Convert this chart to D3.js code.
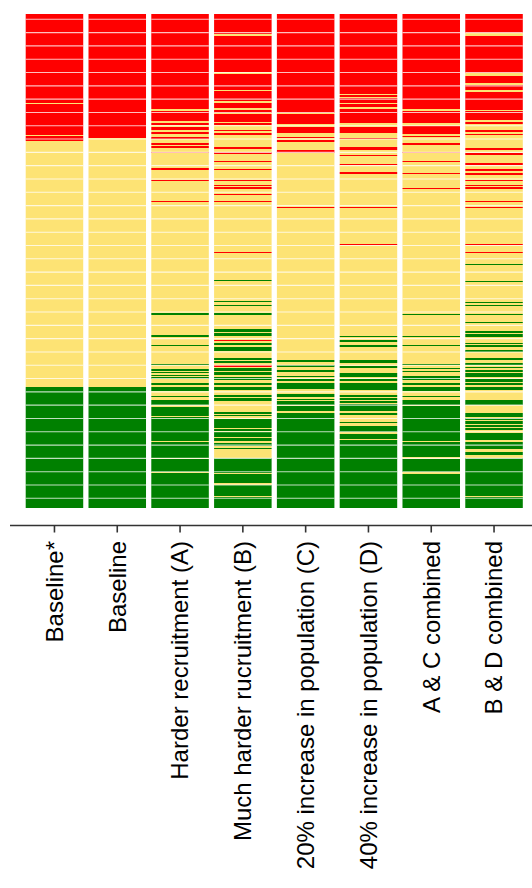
<!DOCTYPE html>
<html>
<head>
<meta charset="utf-8">
<script src="https://cdn.jsdelivr.net/npm/d3@7"></script>
<style>
  html, body { margin: 0; padding: 0; background: #fff; }
  svg { display: block; }
  .label { font-family: "Liberation Sans", Arial, sans-serif; font-size: 24px; fill: #000; }
</style>
</head>
<body>
<svg id="chart" width="532" height="888"></svg>
<script>
// Scenario names, left to right
const categories = [
  "Baseline*", "Baseline", "Harder recruitment (A)", "Much harder rucruitment (B)",
  "20% increase in population (C)", "40% increase in population (D)",
  "A & C combined", "B & D combined"
];

// Outcome of each simulation run, in the same run order for every scenario.
// Each entry is [first run of a block, outcome]; a block lasts until the next entry.
// R = fail, Y = marginal, G = success
const totalRuns = 494;

const baselineStar = [[0,"R"],[89,"Y"],[90,"R"],[121,"Y"],[122,"R"],[127,"Y"],[373,"G"]];

const baseline = [[0,"R"],[124,"Y"],[373,"G"]];

const harderA = [[0,"R"],[95,"Y"],[97,"R"],[107,"Y"],[109,"R"],[111,"Y"],[113,"R"],[116,"Y"],[118,"R"],[120,"Y"],
  [123,"R"],[125,"Y"],[129,"R"],[131,"Y"],[132,"R"],[134,"Y"],[138,"R"],[139,"Y"],[154,"R"],[156,"Y"],
  [166,"R"],[167,"Y"],[187,"R"],[188,"Y"],[299,"G"],[301,"Y"],[321,"G"],[323,"Y"],[331,"G"],[332,"Y"],
  [350,"G"],[351,"Y"],[355,"G"],[357,"Y"],[358,"G"],[359,"Y"],[361,"G"],[362,"Y"],[363,"G"],[365,"Y"],
  [369,"G"],[371,"Y"],[373,"G"],[377,"Y"],[382,"G"],[383,"Y"],[386,"G"],[391,"Y"],[393,"G"],[402,"Y"],
  [403,"G"],[427,"Y"],[428,"G"],[444,"Y"],[445,"G"],[458,"Y"],[459,"G"]];

const muchHarderB = [[0,"R"],[20,"Y"],[22,"R"],[58,"Y"],[60,"R"],[76,"Y"],[77,"R"],[87,"Y"],[89,"R"],[94,"Y"],
  [96,"R"],[99,"Y"],[100,"R"],[108,"Y"],[109,"R"],[111,"Y"],[116,"R"],[117,"Y"],[119,"R"],[121,"Y"],
  [133,"R"],[135,"Y"],[138,"R"],[140,"Y"],[147,"R"],[148,"Y"],[155,"R"],[156,"Y"],[166,"R"],[167,"Y"],
  [171,"R"],[172,"Y"],[173,"R"],[175,"Y"],[180,"R"],[181,"Y"],[187,"R"],[188,"Y"],[238,"R"],[239,"Y"],
  [266,"G"],[267,"Y"],[287,"G"],[288,"Y"],[291,"G"],[292,"Y"],[299,"G"],[301,"Y"],[315,"G"],[318,"Y"],
  [319,"G"],[322,"Y"],[326,"R"],[327,"Y"],[329,"G"],[331,"Y"],[333,"G"],[337,"Y"],[344,"G"],[346,"Y"],
  [347,"G"],[349,"Y"],[351,"R"],[353,"Y"],[354,"G"],[357,"Y"],[358,"G"],[361,"Y"],[363,"G"],[366,"Y"],
  [369,"G"],[371,"Y"],[373,"G"],[376,"Y"],[381,"G"],[383,"Y"],[384,"G"],[387,"Y"],[398,"G"],[400,"Y"],
  [401,"G"],[402,"Y"],[405,"G"],[414,"Y"],[415,"G"],[417,"Y"],[418,"G"],[423,"Y"],[424,"G"],[427,"Y"],
  [429,"G"],[432,"Y"],[434,"G"],[435,"Y"],[444,"G"],[459,"Y"],[460,"G"],[469,"Y"],[471,"G"],[482,"Y"],
  [483,"G"]];

const increaseC = [[0,"R"],[99,"Y"],[100,"R"],[110,"Y"],[113,"R"],[119,"Y"],[123,"R"],[124,"Y"],[126,"R"],[128,"Y"],
  [136,"R"],[139,"Y"],[193,"R"],[194,"Y"],[346,"G"],[348,"Y"],[351,"G"],[353,"Y"],[356,"G"],[358,"Y"],
  [362,"G"],[363,"Y"],[365,"G"],[367,"Y"],[369,"G"],[375,"Y"],[380,"G"],[383,"Y"],[385,"G"],[386,"Y"],
  [387,"G"],[391,"Y"],[392,"G"],[397,"Y"],[399,"G"]];

const increaseD = [[0,"R"],[80,"Y"],[81,"R"],[83,"Y"],[84,"R"],[89,"Y"],[90,"R"],[93,"Y"],[95,"R"],[109,"Y"],
  [113,"R"],[119,"Y"],[124,"R"],[125,"Y"],[133,"R"],[136,"Y"],[141,"R"],[142,"Y"],[150,"R"],[151,"Y"],
  [158,"R"],[160,"Y"],[193,"R"],[194,"Y"],[230,"R"],[231,"Y"],[322,"G"],[323,"Y"],[326,"G"],[328,"Y"],
  [331,"G"],[333,"Y"],[346,"G"],[349,"Y"],[352,"G"],[354,"Y"],[359,"G"],[363,"Y"],[365,"G"],[367,"Y"],
  [369,"G"],[376,"Y"],[381,"G"],[383,"Y"],[384,"G"],[386,"Y"],[387,"G"],[389,"Y"],[390,"G"],[397,"Y"],
  [399,"G"],[401,"Y"],[408,"G"],[409,"Y"],[412,"G"],[418,"Y"],[420,"G"],[425,"Y"],[426,"G"]];

const combinedAC = [[0,"R"],[95,"Y"],[97,"R"],[109,"Y"],[112,"R"],[120,"Y"],[122,"R"],[123,"Y"],[129,"R"],[131,"Y"],
  [138,"R"],[139,"Y"],[147,"R"],[148,"Y"],[159,"R"],[160,"Y"],[174,"R"],[175,"Y"],[300,"G"],[301,"Y"],
  [322,"G"],[323,"Y"],[331,"G"],[332,"Y"],[350,"G"],[351,"Y"],[354,"G"],[355,"Y"],[357,"G"],[358,"Y"],
  [362,"G"],[366,"Y"],[369,"G"],[371,"Y"],[373,"G"],[377,"Y"],[382,"G"],[383,"Y"],[386,"G"],[391,"Y"],
  [392,"G"],[427,"Y"],[428,"G"],[443,"Y"],[445,"G"],[458,"Y"],[460,"G"]];

const combinedBD = [[0,"R"],[19,"Y"],[22,"R"],[59,"Y"],[62,"R"],[69,"Y"],[71,"R"],[76,"Y"],[78,"R"],[96,"Y"],
  [97,"R"],[106,"Y"],[108,"R"],[110,"Y"],[116,"R"],[118,"Y"],[120,"R"],[121,"Y"],[134,"R"],[136,"Y"],
  [139,"R"],[141,"Y"],[149,"R"],[151,"Y"],[155,"R"],[157,"Y"],[159,"R"],[161,"Y"],[166,"R"],[167,"Y"],
  [171,"R"],[172,"Y"],[173,"R"],[175,"Y"],[187,"R"],[188,"Y"],[193,"R"],[194,"Y"],[230,"R"],[231,"Y"],
  [238,"R"],[239,"Y"],[250,"G"],[251,"Y"],[267,"G"],[268,"Y"],[288,"G"],[289,"Y"],[291,"G"],[292,"Y"],
  [300,"G"],[301,"Y"],[308,"G"],[309,"Y"],[317,"G"],[319,"Y"],[320,"G"],[323,"Y"],[329,"G"],[330,"Y"],
  [331,"G"],[333,"Y"],[336,"G"],[338,"Y"],[344,"G"],[346,"Y"],[349,"G"],[351,"Y"],[353,"G"],[354,"Y"],
  [356,"G"],[358,"Y"],[359,"G"],[363,"Y"],[365,"G"],[368,"Y"],[369,"G"],[371,"Y"],[373,"G"],[376,"Y"],
  [386,"G"],[391,"Y"],[399,"G"],[403,"Y"],[404,"G"],[406,"Y"],[407,"G"],[410,"Y"],[411,"G"],[413,"Y"],
  [414,"G"],[416,"Y"],[419,"G"],[426,"Y"],[428,"G"],[435,"Y"],[438,"G"],[441,"Y"],[444,"G"],[482,"Y"],
  [483,"G"]];

const scenarioRuns = [baselineStar, baseline, harderA, muchHarderB, increaseC, increaseD, combinedAC, combinedBD];

const outcomeColor = { R: "#ff0000", Y: "#fde374", G: "#008000" };

// ---- layout ----
const svg = d3.select("#chart");
const plotTop = 14, plotBottom = 508;

const x = d3.scaleBand()
  .domain(categories)
  .range([25.7, 522.8])
  .paddingInner(0.084)
  .paddingOuter(0);

const y = d3.scaleLinear()
  .domain([0, totalRuns])
  .range([plotTop, plotBottom]);

// turn block starts into [start, end, outcome] segments
function toSegments(blocks) {
  return blocks.map((b, i) => ({
    start: b[0],
    end: i + 1 < blocks.length ? blocks[i + 1][0] : totalRuns,
    outcome: b[1]
  }));
}

const columns = svg.append("g")
  .selectAll("g.column")
  .data(categories.map((c, i) => ({ name: c, segments: toSegments(scenarioRuns[i]) })))
  .join("g")
  .attr("class", "column")
  .attr("transform", d => `translate(${x(d.name)},0)`);

columns.selectAll("rect")
  .data(d => d.segments)
  .join("rect")
  .attr("x", 0)
  .attr("y", d => y(d.start))
  .attr("width", x.bandwidth())
  .attr("height", d => y(d.end) - y(d.start))
  .attr("fill", d => outcomeColor[d.outcome]);

// faint white rules across every column, one per block of runs
const ruleStep = 13.306, ruleOffset = 5.3;
const rules = d3.range(37).map(k => ruleOffset + k * ruleStep);
columns.selectAll("line.rule")
  .data(rules)
  .join("line")
  .attr("class", "rule")
  .attr("x1", 0)
  .attr("x2", x.bandwidth())
  .attr("y1", d => y(d))
  .attr("y2", d => y(d))
  .attr("stroke", "#fff")
  .attr("stroke-opacity", 0.75)
  .attr("stroke-width", 1.1);

// ---- category axis ----
const axisY = 525.5;
const axis = svg.append("g");
axis.append("line")
  .attr("x1", 10).attr("x2", 532)
  .attr("y1", axisY).attr("y2", axisY)
  .attr("stroke", "#333").attr("stroke-width", 1.6);

axis.selectAll("line.tick")
  .data(categories)
  .join("line")
  .attr("class", "tick")
  .attr("x1", d => x(d) + x.bandwidth() / 2)
  .attr("x2", d => x(d) + x.bandwidth() / 2)
  .attr("y1", axisY)
  .attr("y2", axisY + 7)
  .attr("stroke", "#333").attr("stroke-width", 1.6);

axis.selectAll("text.label")
  .data(categories)
  .join("text")
  .attr("class", "label")
  .attr("transform", d => `translate(${x(d) + x.bandwidth() / 2},541) rotate(-90)`)
  .attr("text-anchor", "end")
  .attr("dy", "0.35em")
  .text(d => d);
</script>
</body>
</html>
